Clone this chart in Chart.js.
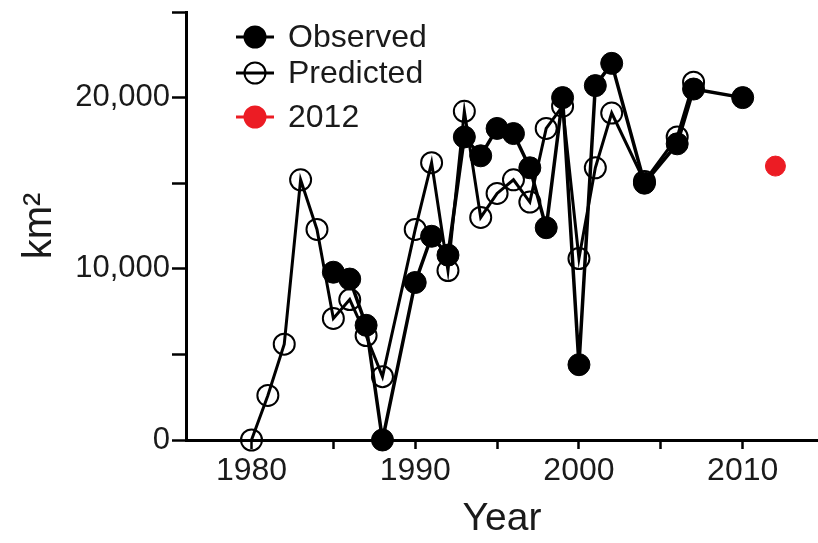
<!DOCTYPE html>
<html>
<head>
<meta charset="utf-8">
<script src="https://cdn.jsdelivr.net/npm/chart.js@4"></script>
<style>
  html, body { margin: 0; padding: 0; background: #fff; overflow: hidden; }
  #wrap { width: 818px; height: 543px; }
</style>
</head>
<body>
<div id="wrap"><canvas id="area-chart" width="818" height="543"></canvas></div>
<script>
// years 1980-2010, null where there is no point
const years = [1980, 1981, 1982, 1983, 1984, 1985, 1986, 1987, 1988, 1989,
               1990, 1991, 1992, 1993, 1994, 1995, 1996, 1997, 1998, 1999,
               2000, 2001, 2002, 2003, 2004, 2005, 2006, 2007, 2008, 2009, 2010];
const observed = [null, null, null, null, null, 9800, 9400, 6700, 0, null,
                  9200, 11900, 10800, 17700, 16600, 18200, 17900, 15900, 12400, 20000,
                  4400, 20700, 22000, null, 15000, null, 17300, 20500, null, null, 20000];
const predicted = [0, 2600, 5600, 15200, 12300, 7100, 8200, 6100, 3700, null,
                   12300, 16200, 9900, 19200, 13000, 14400, 15200, 13900, 18200, 19500,
                   10600, 15900, 19100, null, 15100, null, 17700, 20900, null, null, null];
const year2012 = [2012];
const value2012 = [16000];

const yTicks = [0, 10000, 20000];
const xTicks = [1980, 1990, 2000, 2010];

const FONT = '"Liberation Sans", Arial, sans-serif';
const INK = '#1a1a1a';
const RED = '#ec1c24';

function toPoints(xs, ys) {
  return xs.map((x, i) => ({ x: x, y: ys[i] })).filter(p => p.y !== null);
}

// legend drawn inside the plot, line through the marker like the original
const insetLegend = {
  id: 'insetLegend',
  afterDraw(chart) {
    const ctx = chart.ctx;
    const rows = [37, 73, 117];
    ctx.save();
    chart.data.datasets.forEach((ds, i) => {
      const y = rows[i];
      const open = ds.pointBackgroundColor === 'rgba(0,0,0,0)';
      ctx.strokeStyle = ds.borderColor;
      ctx.lineWidth = 3;
      ctx.beginPath();
      ctx.moveTo(236, y);
      ctx.lineTo(274, y);
      ctx.stroke();
      ctx.beginPath();
      ctx.arc(255, y, 10.5, 0, Math.PI * 2);
      ctx.fillStyle = open ? '#fff' : ds.pointBackgroundColor;
      ctx.fill();
      ctx.lineWidth = 2;
      ctx.strokeStyle = ds.pointBorderColor;
      ctx.stroke();
      if (open) {
        ctx.beginPath();
        ctx.lineWidth = 3;
        ctx.strokeStyle = ds.borderColor;
        ctx.moveTo(245, y);
        ctx.lineTo(265, y);
        ctx.stroke();
      }
      ctx.fillStyle = INK;
      ctx.font = '32px ' + FONT;
      ctx.textBaseline = 'middle';
      ctx.textAlign = 'left';
      ctx.fillText(ds.label, 288, y + 1);
    });
    ctx.restore();
  }
};

const ctx = document.getElementById('area-chart').getContext('2d');
new Chart(ctx, {
  type: 'line',
  data: {
    datasets: [{
      label: 'Observed',
      data: toPoints(years, observed),
      borderColor: '#000',
      borderWidth: 3.5,
      pointRadius: 11,
      pointBackgroundColor: '#000',
      pointBorderColor: '#000',
      pointBorderWidth: 1,
      spanGaps: true,
      clip: false,
      order: 1
    }, {
      label: 'Predicted',
      data: toPoints(years, predicted),
      borderColor: '#000',
      borderWidth: 3,
      pointRadius: 10.5,
      pointBackgroundColor: 'rgba(0,0,0,0)',
      pointBorderColor: '#000',
      pointBorderWidth: 2,
      spanGaps: true,
      clip: false,
      order: 2
    }, {
      label: '2012',
      data: toPoints(year2012, value2012),
      borderColor: RED,
      showLine: false,
      pointRadius: 10,
      pointBackgroundColor: RED,
      pointBorderColor: RED,
      pointBorderWidth: 1,
      clip: false,
      order: 0
    }]
  },
  options: {
    responsive: false,
    animation: false,
    devicePixelRatio: 1,
    layout: { autoPadding: false, padding: { top: 12, right: 0, left: 0, bottom: 0 } },
    plugins: {
      legend: { display: false },
      tooltip: { enabled: false }
    },
    scales: {
      x: {
        type: 'linear',
        min: 1976,
        max: 2014.6,
        afterFit: s => { s.height = 103; s.paddingRight = 0; s.paddingLeft = 0; },
        border: { display: true, color: '#000', width: 3 },
        grid: { drawOnChartArea: false, drawTicks: true, tickLength: 9, tickWidth: 2.5, tickColor: '#000' },
        ticks: {
          stepSize: 5,
          includeBounds: false,
          autoSkip: false,
          maxRotation: 0,
          padding: 3,
          color: INK,
          font: { family: FONT, size: 32 },
          callback: v => xTicks.includes(v) ? String(v) : ''
        },
        title: {
          display: true,
          text: 'Year',
          color: INK,
          font: { family: FONT, size: 39 },
          padding: { top: 0, bottom: 0 }
        }
      },
      y: {
        min: 0,
        max: 25000,
        afterFit: s => { s.width = 186; s.paddingTop = 0; s.paddingBottom = 0; },
        border: { display: true, color: '#000', width: 3 },
        grid: { drawOnChartArea: false, drawTicks: true, tickLength: 14, tickWidth: 2.5, tickColor: '#000' },
        ticks: {
          stepSize: 5000,
          padding: 2,
          color: INK,
          font: { family: FONT, size: 31 },
          callback: v => yTicks.includes(v) ? v.toLocaleString('en-US') : ''
        },
        title: {
          display: true,
          text: 'km²',
          color: INK,
          font: { family: FONT, size: 40 },
          padding: { top: 16, bottom: 0 }
        }
      }
    }
  },
  plugins: [insetLegend]
});
</script>
</body>
</html>
